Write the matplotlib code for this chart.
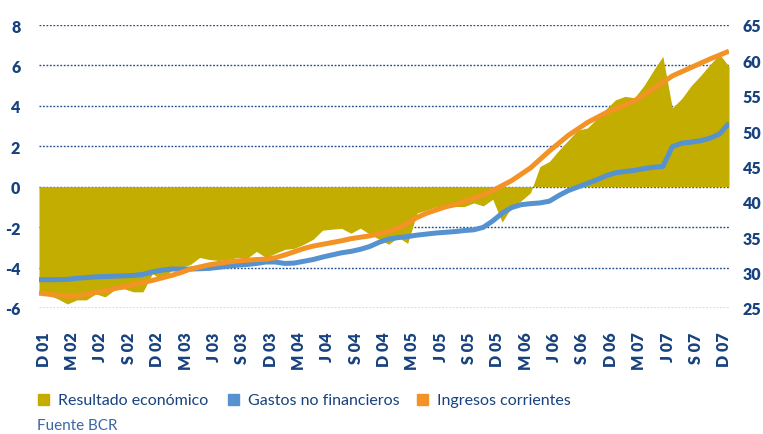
import matplotlib
matplotlib.use("Agg")
import matplotlib.pyplot as plt
import numpy as np
from matplotlib.patches import Rectangle

plt.rcParams['font.family'] = ['Lato', 'DejaVu Sans']
plt.rcParams['axes.unicode_minus'] = False

# monthly series, Nov 01 .. Dec 07
resultado = [-5.3, -5.35, -5.55, -5.8, -5.6, -5.6, -5.3, -5.45, -5.1, -5.05,
             -5.2, -5.2, -4.3, -4.6, -4.15, -4.0, -3.85, -3.5, -3.6, -3.65,
             -3.6, -3.5, -3.55, -3.2, -3.5, -3.3, -3.1, -3.05, -2.85, -2.6,
             -2.15, -2.1, -2.06, -2.3, -2.05, -2.35, -2.6, -2.85, -2.5, -2.8,
             -1.3, -1.15, -1.0, -1.0, -0.98, -0.98, -0.8, -0.95, -0.62, -1.75,
             -1.0, -0.7, -0.3, 1.0, 1.25, 1.8, 2.3, 2.8, 2.9, 3.35,
             3.85, 4.3, 4.47, 4.4, 5.0, 5.75, 6.45, 3.9, 4.36, 5.0,
             5.5, 6.05, 6.55, 5.95]
gastos = [29.0, 29.0, 29.0, 29.05, 29.2, 29.3, 29.4, 29.45, 29.5, 29.55,
          29.6, 29.75, 30.1, 30.35, 30.5, 30.5, 30.5, 30.55, 30.6, 30.75,
          30.9, 31.05, 31.15, 31.3, 31.5, 31.5, 31.3, 31.35, 31.6, 31.85,
          32.2, 32.5, 32.8, 33.0, 33.3, 33.7, 34.3, 34.75, 34.95, 35.1,
          35.3, 35.45, 35.6, 35.7, 35.8, 35.95, 36.05, 36.4, 37.3, 38.4,
          39.2, 39.6, 39.75, 39.85, 40.1, 40.9, 41.6, 42.1, 42.6, 43.1,
          43.7, 44.1, 44.3, 44.45, 44.7, 44.9, 45.0, 47.8, 48.3, 48.45,
          48.65, 49.0, 49.6, 51.1]
ingresos = [27.1, 26.95, 26.75, 26.7, 26.7, 26.9, 27.2, 27.45, 27.75, 28.0,
            28.3, 28.6, 28.9, 29.25, 29.6, 30.0, 30.5, 30.8, 31.1, 31.3,
            31.5, 31.65, 31.75, 31.85, 31.9, 32.1, 32.5, 32.95, 33.4, 33.75,
            34.0, 34.25, 34.5, 34.8, 35.0, 35.2, 35.5, 35.85, 36.3, 37.0,
            37.8, 38.4, 38.85, 39.3, 39.6, 40.1, 40.5, 41.0, 41.6, 42.3,
            43.0, 43.9, 44.8, 46.0, 47.2, 48.3, 49.4, 50.3, 51.2, 51.9,
            52.6, 53.15, 53.7, 54.3, 55.1, 56.0, 56.9, 57.8, 58.4, 59.0,
            59.6, 60.2, 60.75, 61.3]
etiquetas = ['D 01', 'M 02', 'J 02', 'S 02', 'D 02', 'M 03', 'J 03', 'S 03',
             'D 03', 'M 04', 'J 04', 'S 04', 'D 04', 'M 05', 'J 05', 'S 05',
             'D 05', 'M 06', 'J 06', 'S 06', 'D 06', 'M 07', 'J 07', 'S 07',
             'D 07']
series = ['Resultado económico', 'Gastos no financieros', 'Ingresos corrientes']

amarillo = '#C2AD00'
azul = '#5592CF'
naranja = '#F39325'
texto = '#17427F'

x = np.arange(len(resultado))

fig = plt.figure(figsize=(7.63, 4.35), dpi=100)
ax = fig.add_axes([39 / 763, 1 - 309 / 435, 690 / 763, 283 / 435])
ax2 = ax.twinx()

ax.fill_between(x, 0, resultado, color=amarillo, lw=0, zorder=2)
ax2.plot(x, gastos, color=azul, lw=3.6, solid_capstyle='butt')
ax2.plot(x, ingresos, color=naranja, lw=3.6, solid_capstyle='butt')

ax.set_xlim(0, len(x) - 1)
ax.set_ylim(-6, 8)
ax.set_yticks(np.arange(-6, 9, 2))
ax2.set_ylim(25, 65)
ax2.set_yticks(np.arange(25, 66, 5))

ax.set_xticks(np.arange(1, len(x), 3) - 0.5)
ax.set_xticklabels(etiquetas, rotation=90)

ax.grid(axis='y', color='#1F4E8C', lw=1.0, ls=(0, (1.3, 1.2)), zorder=0)
ax.set_axisbelow(True)

for a in (ax, ax2):
    for s in a.spines.values():
        s.set_visible(False)
    a.tick_params(length=0, colors=texto, labelsize=11.5)
    for lab in a.get_yticklabels() + a.get_xticklabels():
        lab.set_fontweight('heavy')
ax.tick_params(axis='y', pad=13.5)
ax.tick_params(axis='x', pad=17, labelsize=11.5)
ax2.tick_params(axis='y', pad=10)

# legend
posiciones = [38, 228, 417]
for px, nombre, col in zip(posiciones, series, [amarillo, azul, naranja]):
    fig.patches.append(Rectangle((px / 763, 1 - 406 / 435), 11 / 763, 11 / 435,
                                 transform=fig.transFigure, color=col))
    fig.text((px + 20) / 763, 1 - 401 / 435, nombre, color=texto,
             fontsize=11.5, va='center', ha='left')

fig.text(37 / 763, 1 - 426 / 435, 'Fuente BCR', color='#3A67A5',
         fontsize=11, va='center', ha='left')

fig.savefig('out.png', dpi=100)
